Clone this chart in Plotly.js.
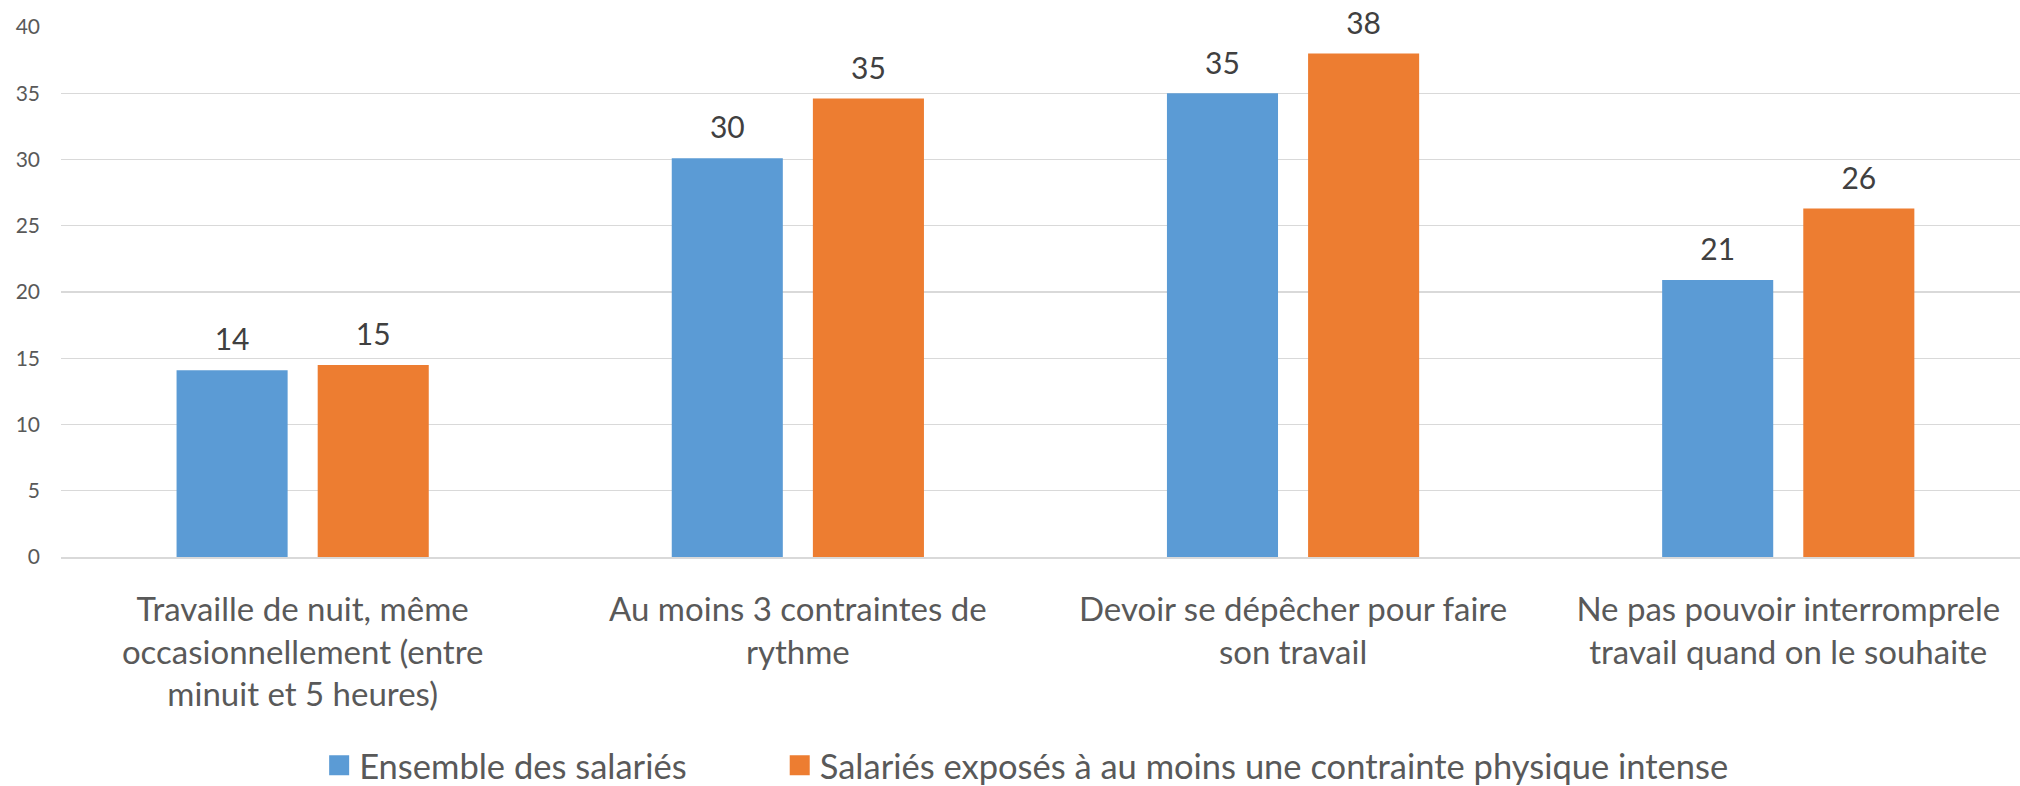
<!DOCTYPE html>
<html>
<head>
<meta charset="utf-8">
<script src="https://cdn.plot.ly/plotly-3.0.1.min.js"></script>
<style>
  html, body { margin: 0; padding: 0; background: #fff; }
  #chart { width: 2020px; height: 786px; }
</style>
</head>
<body>
<div id="chart"></div>
<script>
var categories = [
  'Travaille de nuit, même<br>occasionnellement (entre<br>minuit et 5 heures)',
  'Au moins 3 contraintes de<br>rythme',
  'Devoir se dépêcher pour faire<br>son travail',
  'Ne pas pouvoir interromprele<br>travail quand on le souhaite'
];

var seriesNames = ['Ensemble des salariés', 'Salariés exposés à au moins une contrainte physique intense'];
var ensemble = [14.1, 30.1, 35.0, 20.9];
var exposes = [14.5, 34.6, 38.0, 26.3];

var colors = ['#5B9BD5', '#ED7D31'];
var font = 'Lato, "Open Sans", sans-serif';

function barTrace(values, name, color, group, legendId) {
  return {
    x: categories,
    y: values,
    type: 'bar',
    name: name,
    legend: legendId,
    offsetgroup: group,
    hoverinfo: 'none',
    marker: { color: color }
  };
}

// value labels, drawn as text traces aligned on the same groups as the bars
function labelTrace(values, group) {
  return {
    x: categories,
    y: values,
    type: 'scatter',
    mode: 'markers+text',
    offsetgroup: group,
    marker: { size: 18, color: 'rgba(0,0,0,0)' },
    text: values.map(function (v) { return Math.round(v).toString(); }),
    textposition: 'top center',
    textfont: { family: font, size: 30, color: '#404040' },
    showlegend: false,
    hoverinfo: 'none',
    cliponaxis: false
  };
}

var data = [
  barTrace(ensemble, seriesNames[0], colors[0], 'a', 'legend'),
  barTrace(exposes, seriesNames[1], colors[1], 'b', 'legend2'),
  labelTrace(ensemble, 'a'),
  labelTrace(exposes, 'b')
];

function legendAt(x) {
  return {
    orientation: 'h',
    xref: 'container',
    x: x,
    xanchor: 'left',
    y: -0.393,
    yanchor: 'middle',
    bgcolor: 'rgba(0,0,0,0)',
    font: { family: font, size: 34.5, color: '#595959' }
  };
}

var layout = {
  width: 2020,
  height: 786,
  margin: { l: 61, r: 0, t: 27, b: 229, autoexpand: false },
  paper_bgcolor: '#ffffff',
  plot_bgcolor: '#ffffff',
  barmode: 'group',
  bargap: 0.43,
  bargroupgap: 0.213,
  scattermode: 'group',
  scattergap: 0.43,
  font: { family: font, color: '#595959' },
  xaxis: {
    type: 'category',
    range: [-0.488, 3.468],
    automargin: false,
    showgrid: false,
    showline: true,
    linecolor: '#D9D9D9',
    linewidth: 2,
    ticks: '',
    ticklabelstandoff: 22,
    tickfont: { family: font, size: 33, color: '#595959' }
  },
  yaxis: {
    range: [0, 40],
    dtick: 5,
    automargin: false,
    showgrid: true,
    gridcolor: '#D9D9D9',
    gridwidth: 1.3,
    zeroline: false,
    showline: false,
    ticks: '',
    ticklabelstandoff: 20,
    tickfont: { family: font, size: 21, color: '#595959' }
  },
  legend: legendAt(0.158),
  legend2: legendAt(0.386),
  showlegend: true
};

Plotly.newPlot('chart', data, layout, { displayModeBar: false, staticPlot: true }).then(function () {
  // larger legend squares, as in the original
  document.querySelectorAll('.legendpoints path').forEach(function (p) {
    p.setAttribute('d', 'M10,10H-10V-10H10Z');
  });
});
</script>
</body>
</html>
